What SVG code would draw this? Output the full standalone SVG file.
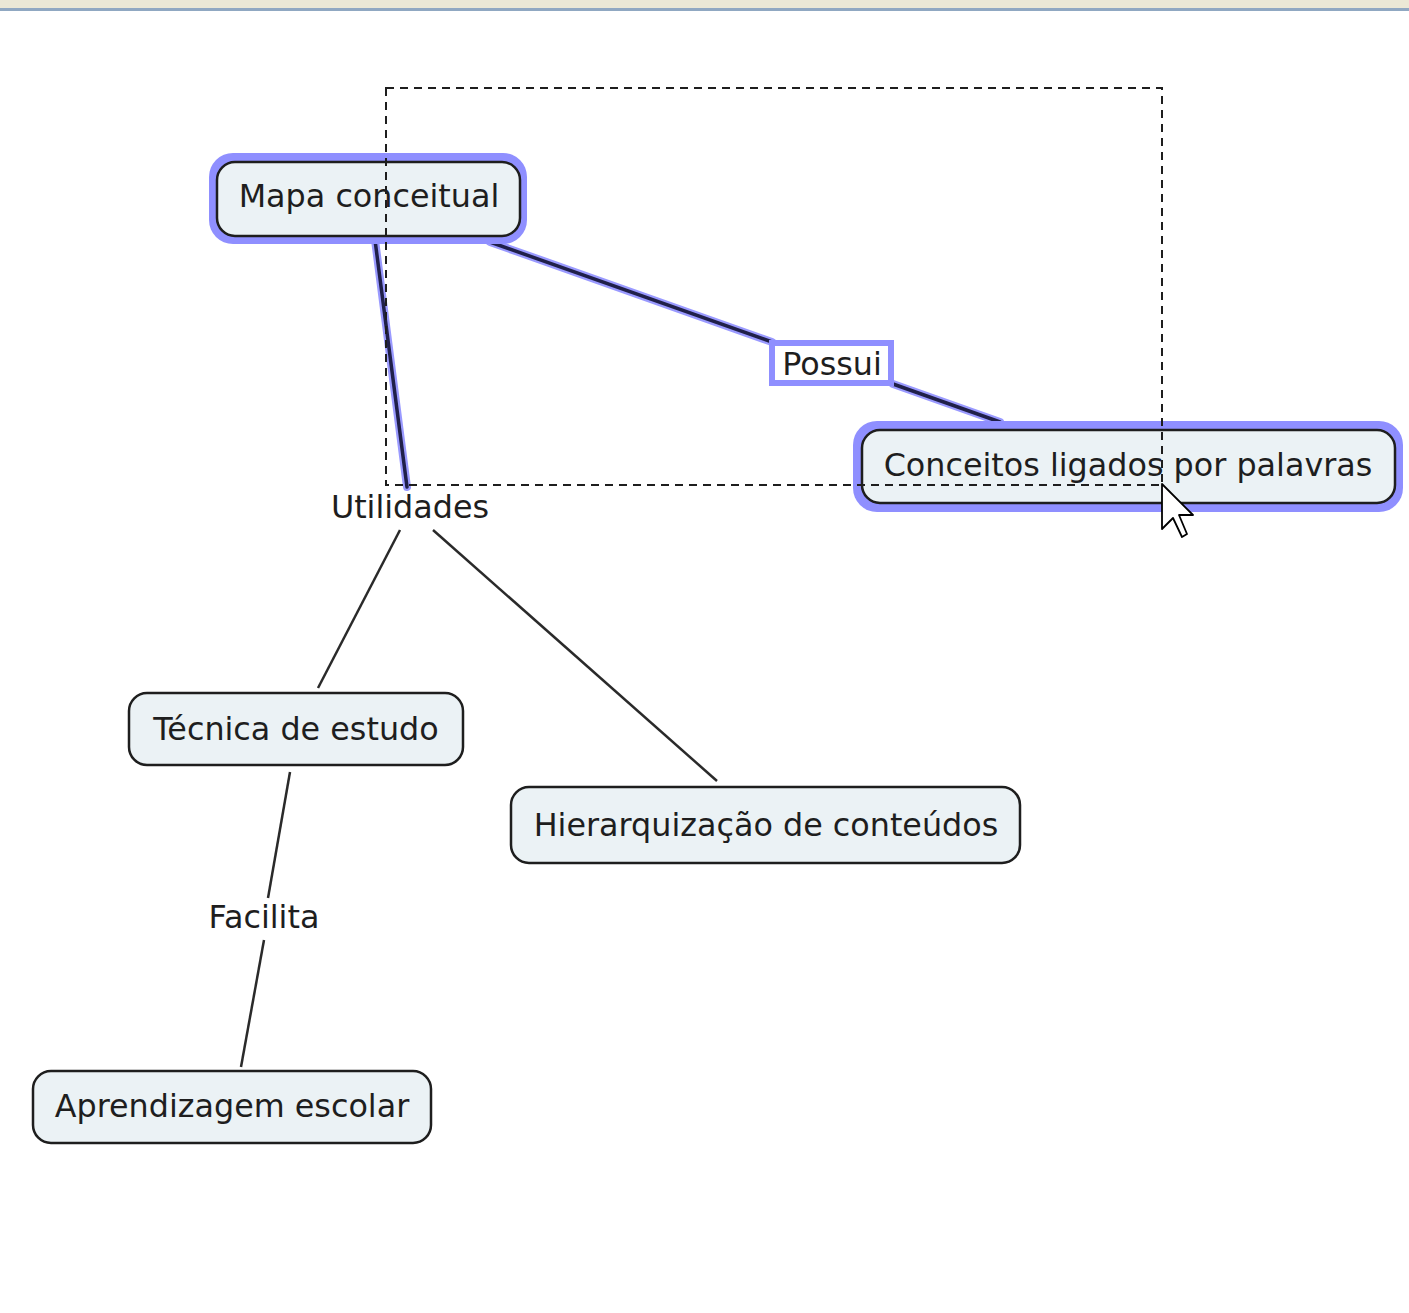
<svg xmlns="http://www.w3.org/2000/svg" width="1409" height="1313" viewBox="0 0 1409 1313">
<defs>
<style>
.node{fill:#ebf2f5;stroke:#1e1e1e;stroke-width:2.5}
.halo{fill:#8f8fff}
.lbl{font-family:"DejaVu Sans","Liberation Sans",sans-serif;font-size:31.8px;fill:#1e1e1e;text-anchor:middle}
.link{stroke:#2a2a2a;stroke-width:2.5;fill:none}
.selhalo{stroke:#9a9aff;stroke-width:8;fill:none;stroke-linecap:round}
.selcore{stroke:#20204a;stroke-width:3.5;fill:none;stroke-linecap:round}
</style>
</defs>
<rect width="1409" height="1313" fill="#ffffff"/>
<rect x="0" y="0" width="1409" height="8" fill="#ebe8d6"/>
<rect x="0" y="8" width="1409" height="3" fill="#90a8c2"/>
<g id="connectors">
<line class="selhalo" x1="375" y1="240" x2="407" y2="487"/>
<line class="selcore" x1="375" y1="240" x2="407" y2="487"/>
<line class="selhalo" x1="490" y1="242" x2="772" y2="342"/>
<line class="selcore" x1="490" y1="242" x2="772" y2="342"/>
<line class="selhalo" x1="893" y1="384" x2="1000" y2="422"/>
<line class="selcore" x1="893" y1="384" x2="1000" y2="422"/>
<line class="link" x1="400" y1="530" x2="318" y2="688"/>
<line class="link" x1="433" y1="530" x2="717" y2="781"/>
<line class="link" x1="290" y1="772" x2="268" y2="898"/>
<line class="link" x1="264" y1="940" x2="241" y2="1067"/>
</g>
<g id="mapa-conceitual">
<rect class="halo" x="209" y="153" width="318" height="91" rx="24"/>
<rect class="node" x="217" y="162" width="303" height="74" rx="18"/>
<text class="lbl" x="369" y="207">Mapa conceitual</text>
</g>
<g id="possui">
<rect x="772" y="343" width="119" height="40" fill="#ffffff" stroke="#8f8fff" stroke-width="6"/>
<text class="lbl" x="832" y="375">Possui</text>
</g>
<g id="conceitos-ligados">
<rect class="halo" x="853" y="421" width="550" height="91" rx="24"/>
<rect class="node" x="862" y="430" width="533" height="73" rx="18"/>
<text class="lbl" x="1128" y="476">Conceitos ligados por palavras</text>
</g>
<g id="utilidades">
<text class="lbl" x="410" y="518">Utilidades</text>
</g>
<g id="tecnica-de-estudo">
<rect class="node" x="129" y="693" width="334" height="72" rx="18"/>
<text class="lbl" x="296" y="740">Técnica de estudo</text>
</g>
<g id="hierarquizacao">
<rect class="node" x="511" y="787" width="509" height="76" rx="18"/>
<text class="lbl" x="766" y="836">Hierarquização de conteúdos</text>
</g>
<g id="facilita">
<text class="lbl" x="264" y="928">Facilita</text>
</g>
<g id="aprendizagem-escolar">
<rect class="node" x="33" y="1071" width="398" height="72" rx="18"/>
<text class="lbl" x="232" y="1117">Aprendizagem escolar</text>
</g>
<rect x="386" y="88" width="776" height="397" fill="none" stroke="#1e1e1e" stroke-width="2" stroke-dasharray="8,6"/>
<polygon points="1162,484 1162,529 1173,518 1182,537 1187,534 1179,515 1193,515" fill="#ffffff" stroke="#000000" stroke-width="1.8" stroke-linejoin="round"/>
</svg>
